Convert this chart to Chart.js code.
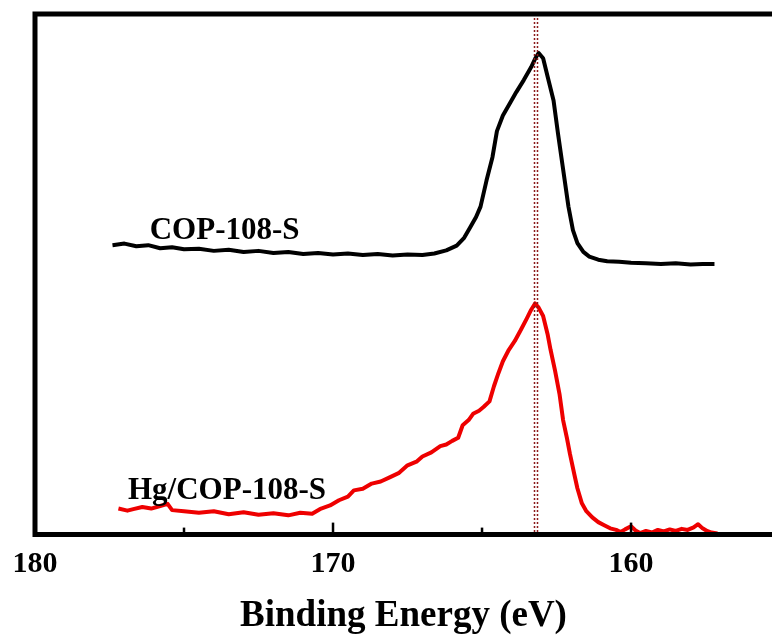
<!DOCTYPE html>
<html>
<head>
<meta charset="utf-8">
<script src="https://cdn.jsdelivr.net/npm/chart.js@4"></script>
<style>
  html, body { margin: 0; padding: 0; background: #fff; }
  #wrap { width: 772px; height: 639px; }
</style>
</head>
<body>
<div id="wrap"><canvas id="chart"></canvas></div>
<script>
"use strict";

// S 2p spectra, binding energy (eV) vs intensity (a.u.)
const copBE = [177.4, 177.0, 176.6, 176.2, 175.8, 175.4, 175.0, 174.5, 174.0, 173.5, 173.0, 172.5, 172.0, 171.5,
  171.0, 170.5, 170.0, 169.5, 169.0, 168.5, 168.0, 167.5, 167.0, 166.6, 166.2, 165.85, 165.6, 165.4, 165.2, 165.05,
  164.85, 164.65, 164.5, 164.3, 164.05, 163.85, 163.6, 163.35, 163.2, 163.1, 162.95, 162.8, 162.6, 162.45, 162.3,
  162.1, 161.95, 161.8, 161.6, 161.4, 161.1, 160.8, 160.4, 160.0, 159.5, 159.0, 158.5, 158.0, 157.6, 157.2];
const copInt = [55.6, 55.9, 55.4, 55.6, 55.0, 55.2, 54.8, 54.9, 54.5, 54.7, 54.3, 54.5, 54.1, 54.3,
  53.9, 54.1, 53.8, 54.0, 53.7, 53.9, 53.6, 53.8, 53.7, 54.0, 54.6, 55.5, 57.0, 59.0, 61.0, 63.0,
  68.0, 72.5, 77.5, 80.5, 83.0, 85.0, 87.3, 89.8, 91.6, 92.5, 91.5, 88.0, 83.4, 77.0, 71.0,
  63.0, 58.5, 56.0, 54.3, 53.4, 52.8, 52.5, 52.4, 52.2, 52.1, 52.0, 52.1, 51.9, 52.0, 52.0];

const hgBE = [177.2, 176.9, 176.7, 176.4, 176.1, 175.8, 175.55, 175.4, 175.0, 174.5, 174.0, 173.5, 173.0, 172.5,
  172.0, 171.5, 171.1, 170.7, 170.4, 170.1, 169.8, 169.5, 169.3, 169.0, 168.7, 168.4, 168.1, 167.8, 167.5, 167.2,
  167.0, 166.7, 166.4, 166.2, 166.0, 165.8, 165.65, 165.45, 165.3, 165.1, 164.95, 164.75, 164.6, 164.45, 164.3,
  164.1, 163.9, 163.7, 163.5, 163.35, 163.22, 163.1, 162.95, 162.8, 162.7, 162.55, 162.4, 162.28, 162.15, 162.05,
  161.9, 161.8, 161.65, 161.5, 161.3, 161.1, 160.9, 160.7, 160.5, 160.35, 160.2, 160.0, 159.85, 159.7, 159.5,
  159.3, 159.1, 158.9, 158.7, 158.5, 158.3, 158.1, 157.9, 157.75, 157.6, 157.45, 157.3, 157.1];
const hgInt = [5.0, 4.6, 4.9, 5.3, 5.0, 5.5, 5.9, 4.7, 4.5, 4.2, 4.5, 3.9, 4.3, 3.8,
  4.1, 3.7, 4.2, 4.0, 5.0, 5.6, 6.6, 7.3, 8.5, 8.8, 9.8, 10.2, 11.0, 11.8, 13.3, 14.0,
  15.0, 15.8, 17.0, 17.3, 18.0, 18.6, 21.0, 22.0, 23.2, 23.8, 24.5, 25.6, 28.5, 31.0, 33.3,
  35.5, 37.2, 39.3, 41.5, 43.2, 44.4, 43.6, 42.0, 38.5, 35.5, 31.5, 27.0, 22.0, 18.5, 15.5,
  11.5, 8.9, 6.0, 4.5, 3.3, 2.4, 1.8, 1.2, 0.9, 0.5, 1.0, 1.6, 0.8, 0.3, 0.7,
  0.4, 0.9, 0.6, 1.0, 0.7, 1.1, 0.9, 1.4, 2.0, 1.2, 0.7, 0.4, 0.2];

const seriesNames = ['COP-108-S', 'Hg/COP-108-S'];
const seriesColors = ['#000000', '#ee0000'];
const labelBE = [176.15, 176.88];
const labelInt = [58.4, 8.3];
const peakRefs = [163.25, 163.15];

const xMin = 155.27, xMax = 180;
const serif = '"Liberation Serif", "Times New Roman", serif';

function pts(xs, ys) { return xs.map(function(x, i) { return {x: x, y: ys[i]}; }); }

const framePlugin = {
  id: 'frame',
  afterDatasetsDraw: function(chart) {
    const ctx = chart.ctx, a = chart.chartArea;
    const xs = chart.scales.x, ys = chart.scales.y;
    ctx.save();
    // dotted reference lines through the peak
    ctx.strokeStyle = '#8b1a1a';
    ctx.lineWidth = 1.5;
    ctx.setLineDash([2, 2]);
    peakRefs.forEach(function(v) {
      const px = Math.round(xs.getPixelForValue(v)) + 0.5;
      ctx.beginPath(); ctx.moveTo(px, a.top); ctx.lineTo(px, a.bottom); ctx.stroke();
    });
    ctx.setLineDash([]);
    // series labels
    ctx.fillStyle = '#000';
    ctx.font = 'bold 31px ' + serif;
    ctx.textAlign = 'left';
    ctx.textBaseline = 'middle';
    seriesNames.forEach(function(n, i) {
      ctx.fillText(n, xs.getPixelForValue(labelBE[i]), ys.getPixelForValue(labelInt[i]));
    });
    // frame: top, left, bottom
    ctx.strokeStyle = '#000';
    ctx.lineWidth = 5;
    ctx.lineCap = 'square';
    ctx.beginPath();
    ctx.moveTo(a.right + 5, a.top);
    ctx.lineTo(a.left, a.top);
    ctx.lineTo(a.left, a.bottom);
    ctx.lineTo(a.right + 5, a.bottom);
    ctx.stroke();
    // inward tick marks
    ctx.lineWidth = 2.5;
    ctx.lineCap = 'butt';
    xs.ticks.forEach(function(t) {
      const px = xs.getPixelForValue(t.value);
      const len = (t.value % 10 === 0) ? 12 : 7;
      ctx.beginPath(); ctx.moveTo(px, a.bottom); ctx.lineTo(px, a.bottom - len); ctx.stroke();
    });
    ctx.restore();
  }
};

new Chart('chart', {
  type: 'line',
  data: {
    datasets: [
      {label: seriesNames[0], data: pts(copBE, copInt), borderColor: seriesColors[0], borderWidth: 4},
      {label: seriesNames[1], data: pts(hgBE, hgInt), borderColor: seriesColors[1], borderWidth: 4}
    ]
  },
  options: {
    responsive: true,
    maintainAspectRatio: false,
    animation: false,
    events: [],
    layout: {padding: {left: 35, top: 14, right: 0, bottom: 0}},
    elements: {point: {radius: 0}, line: {tension: 0, borderJoinStyle: 'round'}},
    datasets: {line: {clip: false}},
    plugins: {legend: {display: false}, tooltip: {enabled: false}},
    scales: {
      x: {
        type: 'linear',
        reverse: true,
        min: xMin,
        max: xMax,
        grid: {display: false},
        border: {display: false},
        afterBuildTicks: function(s) {
          s.ticks = s.ticks.filter(function(t) { return t.value % 5 === 0; });
        },
        ticks: {
          stepSize: 5,
          includeBounds: false,
          maxRotation: 0,
          autoSkip: false,
          padding: 4,
          color: '#000',
          font: {family: serif, size: 30, weight: 'bold'},
          callback: function(v) { return v % 10 === 0 ? String(v) : ''; }
        },
        title: {
          display: true,
          text: 'Binding Energy (eV)',
          color: '#000',
          padding: {top: 8, bottom: 0},
          font: {family: serif, size: 37, weight: 'bold'}
        }
      },
      y: {
        display: false,
        min: 0,
        max: 100
      }
    }
  },
  plugins: [framePlugin]
});
</script>
</body>
</html>
